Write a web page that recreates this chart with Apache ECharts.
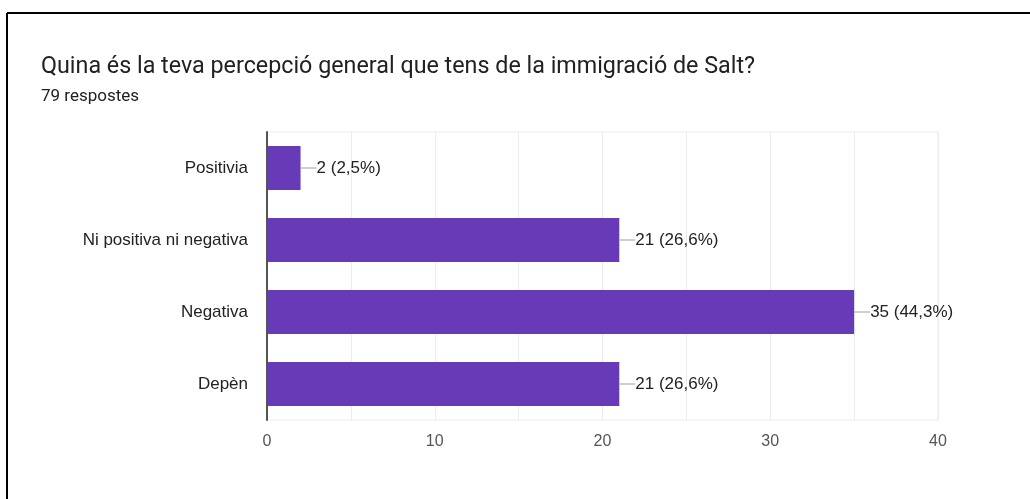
<!DOCTYPE html>
<html>
<head>
<meta charset="utf-8">
<script src="https://cdn.jsdelivr.net/npm/echarts@6/dist/echarts.min.js"></script>
<style>
  html, body { margin: 0; padding: 0; background: #fff; }
  #chart { width: 1030px; height: 499px; }
</style>
</head>
<body>
<div id="chart"></div>
<script>
var categories = ['Positivia', 'Ni positiva ni negativa', 'Negativa', 'Depèn'];
var counts = [2, 21, 35, 21];
var percents = ['2,5%', '26,6%', '44,3%', '26,6%'];
var xTicks = [0, 10, 20, 30, 40];

var chartFont = '"Liberation Sans", Arial, sans-serif';

var chart = echarts.init(document.getElementById('chart'), null, { renderer: 'canvas' });

var option = {
  animation: false,
  backgroundColor: '#fff',
  textStyle: { fontFamily: chartFont },
  title: {
    text: 'Quina és la teva percepció general que tens de la immigració de Salt?',
    subtext: '79 respostes',
    left: 36,
    top: 51,
    itemGap: 9,
    textStyle: { fontSize: 23.3, fontWeight: 'normal', color: '#202124', fontFamily: 'Roboto, sans-serif' },
    subtextStyle: { fontSize: 17, color: '#202124', fontFamily: 'Roboto, sans-serif' }
  },
  graphic: [
    { type: 'line', shape: { x1: 7, y1: 13, x2: 1030, y2: 13 }, style: { stroke: '#000', lineWidth: 2 } },
    { type: 'line', shape: { x1: 7, y1: 13, x2: 7, y2: 499 }, style: { stroke: '#000', lineWidth: 2 } }
  ],
  grid: {
    left: 267, right: 92, top: 132, bottom: 79,
    show: true, borderColor: '#ebebeb', borderWidth: 1
  },
  xAxis: {
    type: 'value',
    min: xTicks[0],
    max: xTicks[xTicks.length - 1],
    interval: 10,
    axisLine: { show: false },
    axisTick: { show: false },
    axisLabel: { color: '#555', fontSize: 16, margin: 14, fontFamily: chartFont },
    splitLine: { show: true, lineStyle: { color: '#ebebeb', width: 1 } },
    minorTick: { show: false, splitNumber: 2 },
    minorSplitLine: { show: true, lineStyle: { color: '#ebebeb', width: 1 } }
  },
  yAxis: {
    type: 'category',
    data: categories,
    inverse: true,
    axisLine: { show: true, lineStyle: { color: '#555', width: 2 } },
    axisTick: { show: false },
    axisLabel: { color: '#222', fontSize: 17, margin: 19, fontFamily: chartFont },
    splitLine: { show: false }
  },
  series: [{
    type: 'bar',
    data: counts,
    barWidth: 44,
    itemStyle: { color: '#673ab7' },
    label: {
      show: true,
      position: 'right',
      distance: 0,
      formatter: function (p) {
        return '{ln|}{t|' + counts[p.dataIndex] + ' (' + percents[p.dataIndex] + ')}';
      },
      rich: {
        ln: { width: 16, height: 1, backgroundColor: '#9e9e9e' },
        t: { fontSize: 17, color: '#222', fontFamily: chartFont }
      }
    }
  }]
};

chart.setOption(option);
window.addEventListener('resize', function () {
  chart.resize();
});
</script>
</body>
</html>
